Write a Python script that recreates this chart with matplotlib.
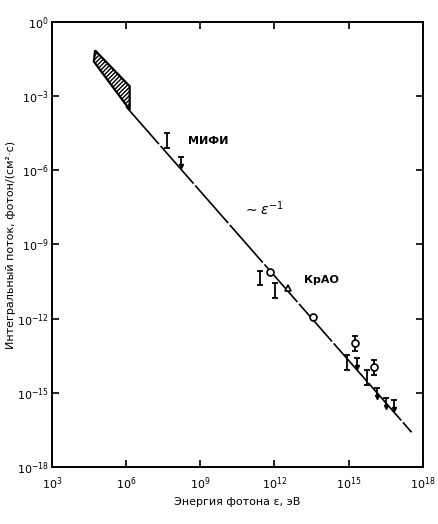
import numpy as np
import matplotlib
matplotlib.use("Agg")
import matplotlib.pyplot as plt

plt.rcParams["hatch.linewidth"] = 1.0

# all values as log10
band_x = [4.75, 6.15, 6.15, 4.7]
band_y = [-1.15, -2.6, -3.55, -1.6]

line_x = [6.0, 17.55]
line_y = [-3.42, -16.6]

# points with error bars: (log E, log J)
bar_x = [7.66, 11.43, 12.01, 14.94, 15.74, 15.25, 16.04]
bar_y = [-4.78, -10.36, -10.85, -13.77, -14.37, -13.0, -13.97]
# upper limits
lim_x = [8.22, 15.33, 16.14, 16.5, 16.83]
lim_y = [-5.47, -13.6, -14.82, -15.22, -15.3]
# open circles
circ_x = [11.81, 13.55, 15.25, 16.04]
circ_y = [-10.12, -11.94, -13.0, -13.97]
tri_x = [12.56]
tri_y = [-10.77]

xt = [3, 6, 9, 12, 15, 18]
yt = [0, -3, -6, -9, -12, -15, -18]

fig = plt.figure(figsize=(4.39, 5.24), dpi=100)
ax = fig.add_axes([0.118, 0.109, 0.845, 0.849])
ax.set_xscale("log"); ax.set_yscale("log")
ax.set_xlim(1e3, 1e18); ax.set_ylim(1e-18, 1e0)

p = lambda v: 10.0 ** np.asarray(v, dtype=float)

ax.fill(p(band_x), p(band_y), facecolor="white", edgecolor="black",
        hatch="////////", linewidth=1.6)
ax.plot(p(line_x), p(line_y), color="black", lw=1.2, dashes=(30, 1.5))

bx, by = p(bar_x), p(bar_y)
ax.errorbar(bx, by, yerr=[by - by / 10**0.3, by * 10**0.3 - by], fmt="none",
            ecolor="black", elinewidth=1.3, capsize=2.5, capthick=1.3)
lx, ly = p(lim_x), p(lim_y)
ax.errorbar(lx, ly, yerr=[ly - ly / 10**0.35, np.zeros_like(ly)],
            fmt="none", ecolor="black", elinewidth=1.3)
ax.plot(lx, ly, ls="none", marker="_", ms=5, mew=1.3, color="black")
ax.plot(lx, ly / 10**0.35, ls="none", marker="v", ms=3, color="black")
ax.plot(p(circ_x), p(circ_y), ls="none", marker="o", ms=5, mfc="white",
        mec="black", mew=1.2)
ax.plot(p(tri_x), p(tri_y), ls="none", marker="^", ms=5, mfc="white",
        mec="black", mew=1.2)

ax.text(p(8.5), p(-4.95), "МИФИ", fontsize=8, fontweight="bold")
ax.text(p(13.2), p(-10.55), "КрАО", fontsize=8, fontweight="bold")
ax.text(p(10.75), p(-7.8), r"$\sim\varepsilon^{-1}$", fontsize=10)

ax.set_xticks(p(xt))
ax.set_xticklabels([f"$10^{{{v}}}$" for v in xt])
ax.set_yticks(p(yt))
ax.set_yticklabels([f"$10^{{{v}}}$" for v in yt])
ax.minorticks_off()
ax.tick_params(which="major", direction="in", length=5, width=1.2,
               top=True, right=True, labelsize=8, pad=2)
ax.tick_params(axis="x", pad=6)
for s in ax.spines.values():
    s.set_linewidth(1.4)

ax.set_xlabel("Энергия фотона ε, эВ", fontsize=8, labelpad=4)
ax.set_ylabel("Интегральный поток, фотон/(см²·с)", fontsize=8, labelpad=1)

fig.savefig("out.png", dpi=100)
